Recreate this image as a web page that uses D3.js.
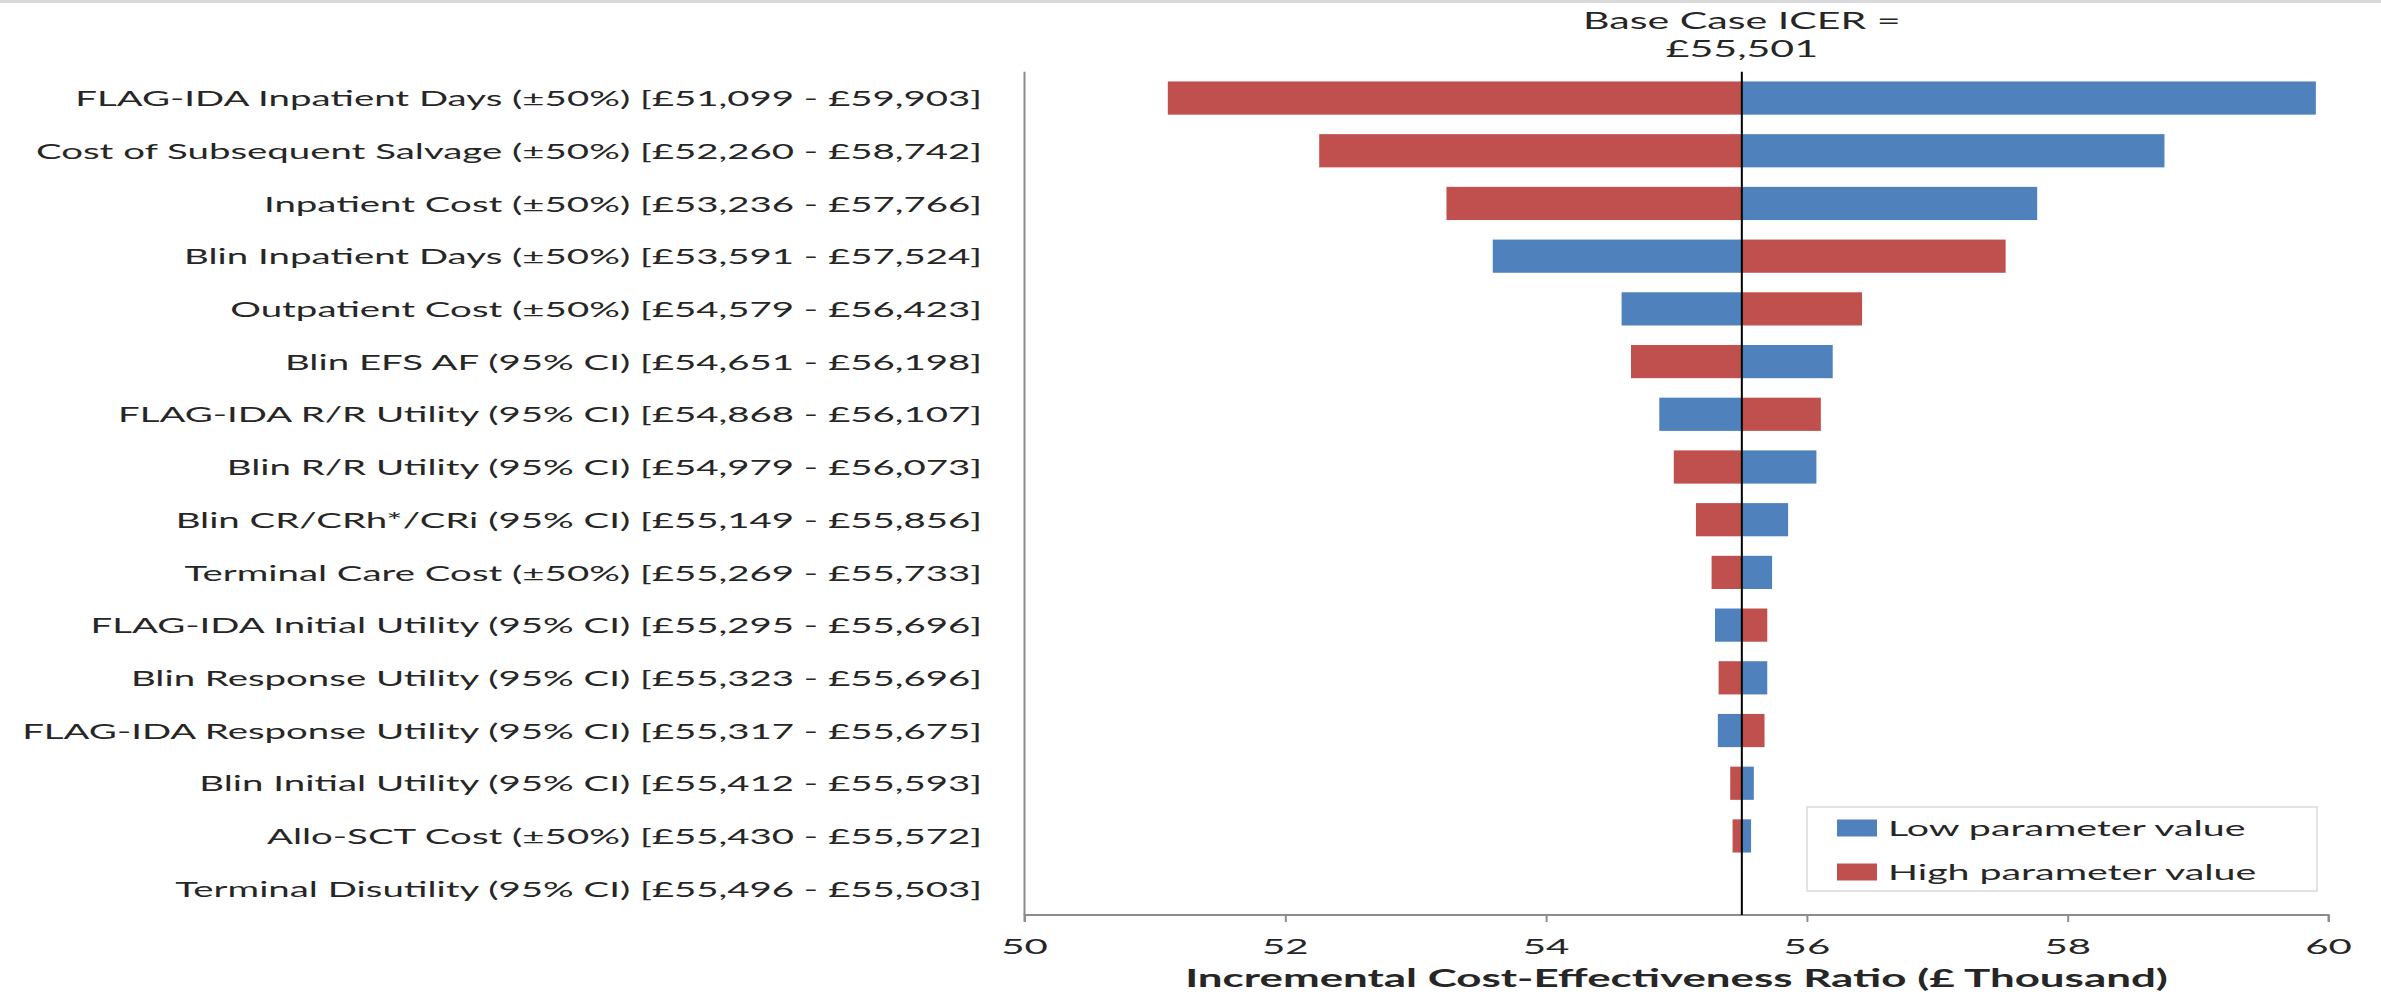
<!DOCTYPE html>
<html>
<head>
<meta charset="utf-8">
<script src="https://cdn.jsdelivr.net/npm/d3@7"></script>
<style>
  html, body { margin: 0; padding: 0; background: #fff; }
  svg { display: block; }
  text { font-family: Lato, "Open Sans", sans-serif; fill: #262626; }
</style>
</head>
<body>
<svg id="chart" width="2381" height="994"></svg>
<script>
// Tornado diagram: one-way sensitivity of the ICER (£) to each parameter
const parameters = [
  "FLAG-IDA Inpatient Days (±50%)",
  "Cost of Subsequent Salvage (±50%)",
  "Inpatient Cost (±50%)",
  "Blin Inpatient Days (±50%)",
  "Outpatient Cost (±50%)",
  "Blin EFS AF (95% CI)",
  "FLAG-IDA R/R Utility (95% CI)",
  "Blin R/R Utility (95% CI)",
  "Blin CR/CRh*/CRi (95% CI)",
  "Terminal Care Cost (±50%)",
  "FLAG-IDA Initial Utility (95% CI)",
  "Blin Response Utility (95% CI)",
  "FLAG-IDA Response Utility (95% CI)",
  "Blin Initial Utility (95% CI)",
  "Allo-SCT Cost (±50%)",
  "Terminal Disutility (95% CI)"
];
// ICER (£) at the low parameter value
const lowValueICER = [59903, 58742, 57766, 53591, 54579, 56198, 54868, 56073,
                      55856, 55733, 55295, 55696, 55317, 55593, 55572, 55503];
// ICER (£) at the high parameter value
const highValueICER = [51099, 52260, 53236, 57524, 56423, 54651, 56107, 54979,
                       55149, 55269, 55696, 55323, 55675, 55412, 55430, 55496];
const baseICER = 55501;
const xTicks = [50, 52, 54, 56, 58, 60];
const seriesNames = ["Low parameter value", "High parameter value"];
const seriesColors = ["#4F81BD", "#C0504D"];

const svg = d3.select("#chart");
const fmt = d3.format(",");
const margin = { left: 1024.5, right: 2328.5, top: 71.7, bottom: 915 };
const fontSize = 21;

const x = d3.scaleLinear().domain([50, 60]).range([margin.left, margin.right]);
const y = d3.scaleBand().domain(parameters).range([margin.top, margin.bottom])
  .paddingInner(0.37).paddingOuter(0.185);

// text helper: all text shares one horizontal stretch factor
let sx = 1;
function addText(g, str, px, py, opts = {}) {
  const t = g.append("text")
    .attr("transform", `translate(${px},${py}) scale(${sx},1)`)
    .attr("text-anchor", opts.anchor || "start")
    .attr("dominant-baseline", "central")
    .style("font-size", (opts.size || fontSize) + "px")
    .style("font-weight", opts.weight || "normal")
    .text(str);
  return t;
}

const rows = parameters.map((p, i) => {
  const lo = lowValueICER[i], hi = highValueICER[i];
  const mn = Math.min(lo, hi), mx = Math.max(lo, hi);
  return { name: p, lo, hi, label: `${p} [£${fmt(mn)} - £${fmt(mx)}]` };
});

// measure the widest label to set the stretch
const probe = svg.append("text").style("font-size", fontSize + "px").text(rows[0].label);
sx = 907 / probe.node().getComputedTextLength();
probe.remove();

// thin frame line at top
svg.append("rect").attr("x", 0).attr("y", 0).attr("width", 2381).attr("height", 3).attr("fill", "#d9d9d9");

// bars
const barG = svg.append("g");
rows.forEach(r => {
  [[r.lo, seriesColors[0]], [r.hi, seriesColors[1]]].forEach(([v, c]) => {
    const v0 = Math.min(v, baseICER) / 1000, v1 = Math.max(v, baseICER) / 1000;
    barG.append("rect")
      .attr("x", x(v0)).attr("y", y(r.name))
      .attr("width", x(v1) - x(v0)).attr("height", y.bandwidth())
      .attr("fill", c);
  });
});

// axes
const axisG = svg.append("g");
axisG.append("line").attr("x1", x(50)).attr("x2", x(50))
  .attr("y1", margin.top).attr("y2", margin.bottom)
  .attr("stroke", "#8c8c8c").attr("stroke-width", 2);
const xAxis = d3.axisBottom(x).tickValues(xTicks).tickSize(7).tickFormat("");
const xg = svg.append("g").attr("transform", `translate(0,${margin.bottom})`).call(xAxis);
xg.select(".domain").attr("stroke", "#8c8c8c").attr("stroke-width", 2)
  .attr("d", `M${x(50)},7V0H${x(60)}V7`);
xg.selectAll(".tick line").attr("stroke", "#8c8c8c").attr("stroke-width", 2);
xTicks.forEach(t => addText(svg, String(t), x(t), 946, { anchor: "middle", size: 22 }));

// category labels
rows.forEach(r => addText(svg, r.label, 982, y(r.name) + y.bandwidth() / 2, { anchor: "end" }));

// base case line and label
svg.append("line").attr("x1", x(baseICER / 1000)).attr("x2", x(baseICER / 1000))
  .attr("y1", margin.top).attr("y2", margin.bottom)
  .attr("stroke", "#000").attr("stroke-width", 2);
addText(svg, "Base Case ICER =", x(baseICER / 1000), 20, { anchor: "middle", size: 22.5 });
addText(svg, `£${fmt(baseICER)}`, x(baseICER / 1000), 48, { anchor: "middle", size: 22.5 });

// axis title
addText(svg, "Incremental Cost-Effectiveness Ratio (£ Thousand)", (x(50) + x(60)) / 2, 978,
  { anchor: "middle", weight: "bold", size: 24 });

// legend
const lg = svg.append("g");
lg.append("rect").attr("x", 1807).attr("y", 807).attr("width", 510).attr("height", 84)
  .attr("fill", "#fff").attr("stroke", "#e3e3e3").attr("stroke-width", 2);
seriesNames.forEach((s, i) => {
  const cy = 828 + i * 44;
  lg.append("rect").attr("x", 1837).attr("y", cy - 8.5).attr("width", 40).attr("height", 17)
    .attr("fill", seriesColors[i]);
  addText(lg, s, 1888, cy, { size: 21.5 });
});
</script>
</body>
</html>
